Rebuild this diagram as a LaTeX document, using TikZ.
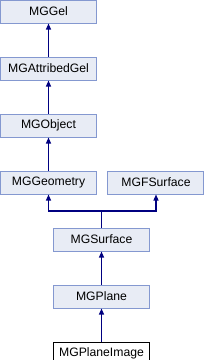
\documentclass[tikz,border=0pt]{standalone}
\usepackage{fontspec}
\setmainfont{Liberation Sans}
\usepackage{tikz}
\usetikzlibrary{arrows.meta, positioning}
\definecolor{clsfill}{RGB}{232,236,245}
\definecolor{clsborder}{RGB}{132,152,208}
\definecolor{inhblue}{RGB}{0,0,128}
\tikzset{
  cls/.style={rectangle, minimum width=96pt, minimum height=23pt, inner sep=0pt,
    align=center, draw=clsborder, fill=clsfill, line width=1pt,
    font=\fontsize{12.2}{14}\selectfont},
  curcls/.style={cls, draw=black, fill=white},
  arrow/.style={-{Triangle[length=6pt, width=5pt]}, line width=1.1pt, color=inhblue},
}

\begin{document}
\begin{tikzpicture}[x=1pt, y=1pt, node distance=33pt]
  \useasboundingbox (0,0) rectangle (204,-360);
  \node[cls] (gel) at (48.5,-11.5) {MGGel};
  \node[cls, below=of gel] (attr) {MGAttribedGel};
  \node[cls, below=of attr] (obj) {MGObject};
  \node[cls, below=of obj] (geo) {MGGeometry};
  \node[cls, right=10.5pt of geo] (fsurf) {MGFSurface};
  \node[cls, below=33pt of geo.south, xshift=53pt] (surf) {MGSurface};
  \node[cls, below=of surf] (plane) {MGPlane};
  \node[curcls, below=of plane] (img) {MGPlaneImage};
  \coordinate[above=16.5pt of surf.north] (fork);
  \draw[arrow] (attr) -- (gel);
  \draw[arrow] (obj) -- (attr);
  \draw[arrow] (geo) -- (obj);
  \draw[arrow] (surf) -- (fork) -| (geo);
  \draw[arrow] (surf) -- (fork) -| (fsurf);
  \draw[arrow] (plane) -- (surf);
  \draw[arrow] (img) -- (plane);
\end{tikzpicture}
\end{document}
